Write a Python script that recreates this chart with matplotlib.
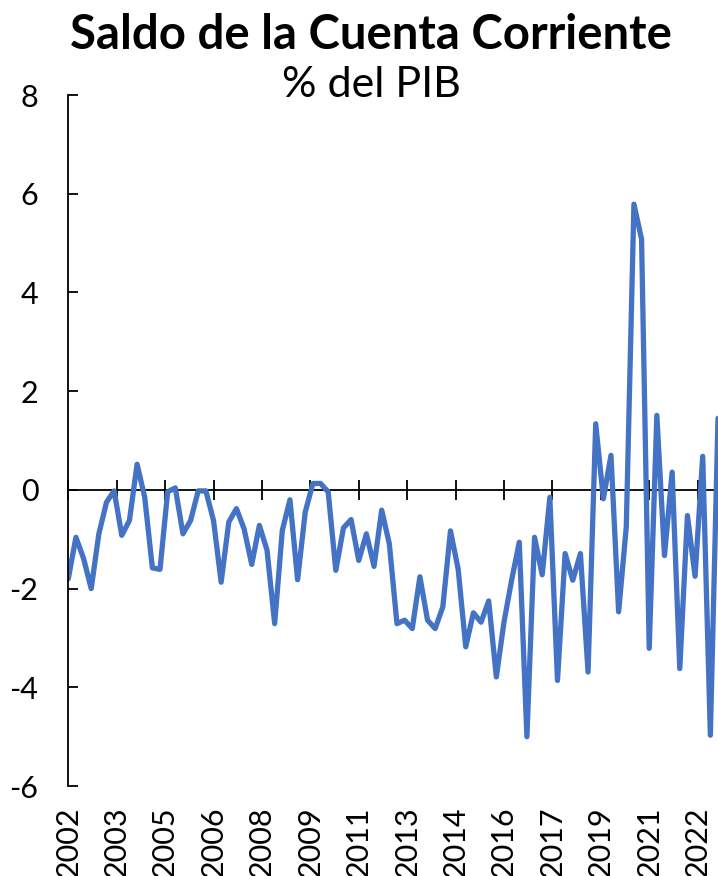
import matplotlib
matplotlib.use("Agg")
import matplotlib.pyplot as plt
import matplotlib.transforms as mtransforms

plt.rcParams['font.family'] = ['Lato', 'DejaVu Sans']

# Saldo de la cuenta corriente, % del PIB (trimestral, 2002T1 - 2023T2)
saldo = [
    -1.80, -0.96, -1.39, -2.00, -0.89, -0.25, -0.02, -0.92, -0.62, 0.52,
    -0.15, -1.58, -1.61, -0.04, 0.04, -0.89, -0.62, -0.02, -0.02, -0.62,
    -1.87, -0.65, -0.38, -0.79, -1.51, -0.72, -1.22, -2.71, -0.82, -0.20,
    -1.82, -0.45, 0.13, 0.13, -0.04, -1.63, -0.77, -0.60, -1.43, -0.89,
    -1.55, -0.41, -1.09, -2.71, -2.64, -2.81, -1.76, -2.64, -2.81, -2.37,
    -0.83, -1.60, -3.18, -2.49, -2.68, -2.25, -3.79, -2.68, -1.83, -1.06,
    -5.00, -0.96, -1.72, -0.15, -3.86, -1.29, -1.83, -1.29, -3.69, 1.34,
    -0.18, 0.70, -2.47, -0.75, 5.79, 5.08, -3.21, 1.51, -1.33, 0.36,
    -3.62, -0.52, -1.75, 0.68, -4.97, 1.45,
]

# months since Jan 2002 for each quarter
meses = [3 * i for i in range(len(saldo))]

# axis labels every 19 months, as Excel drew them
tick_meses = [19 * k for k in range(14)]
tick_years = ["2002", "2003", "2005", "2006", "2008", "2009", "2011",
              "2013", "2014", "2016", "2017", "2019", "2021", "2022"]

fig = plt.figure(figsize=(7.18, 8.76), dpi=100)
ax = fig.add_axes([0.0951, 0.1027, 0.9049, 0.7888])

ax.plot(meses, saldo, color="#4472C4", linewidth=3.8,
        solid_joinstyle="round", solid_capstyle="round", clip_on=True)

ax.set_xlim(0, meses[-1])
ax.set_ylim(-6, 8)
ax.set_yticks(range(-6, 9, 2))
ax.set_yticklabels([str(v) for v in range(-6, 9, 2)])

for side in ["top", "right"]:
    ax.spines[side].set_visible(False)
ax.spines["left"].set_linewidth(1.3)
ax.spines["bottom"].set_position(("data", 0))
ax.spines["bottom"].set_linewidth(1.3)
ax.spines["bottom"].set_zorder(1)

ax.tick_params(axis="y", direction="in", length=7.2, width=1.3,
               labelsize=22, pad=21.5, colors="black")
ax.tick_params(axis="x", direction="inout", length=14.4, width=1.3,
               labelbottom=False)
ax.set_xticks(tick_meses)

# year labels sit at the bottom of the chart, not on the zero line
trans = mtransforms.blended_transform_factory(ax.transData, ax.transAxes)
for m, year in zip(tick_meses, tick_years):
    ax.text(m, -0.03, year, transform=trans, rotation=90,
            ha="center", va="top", fontsize=22)

fig.text(371 / 718, 1 - 49 / 876, "Saldo de la Cuenta Corriente",
         ha="center", va="baseline", fontsize=34, fontweight="bold")
fig.text(371 / 718, 1 - 97 / 876, "% del PIB",
         ha="center", va="baseline", fontsize=31)

fig.savefig("out.png", dpi=100)
